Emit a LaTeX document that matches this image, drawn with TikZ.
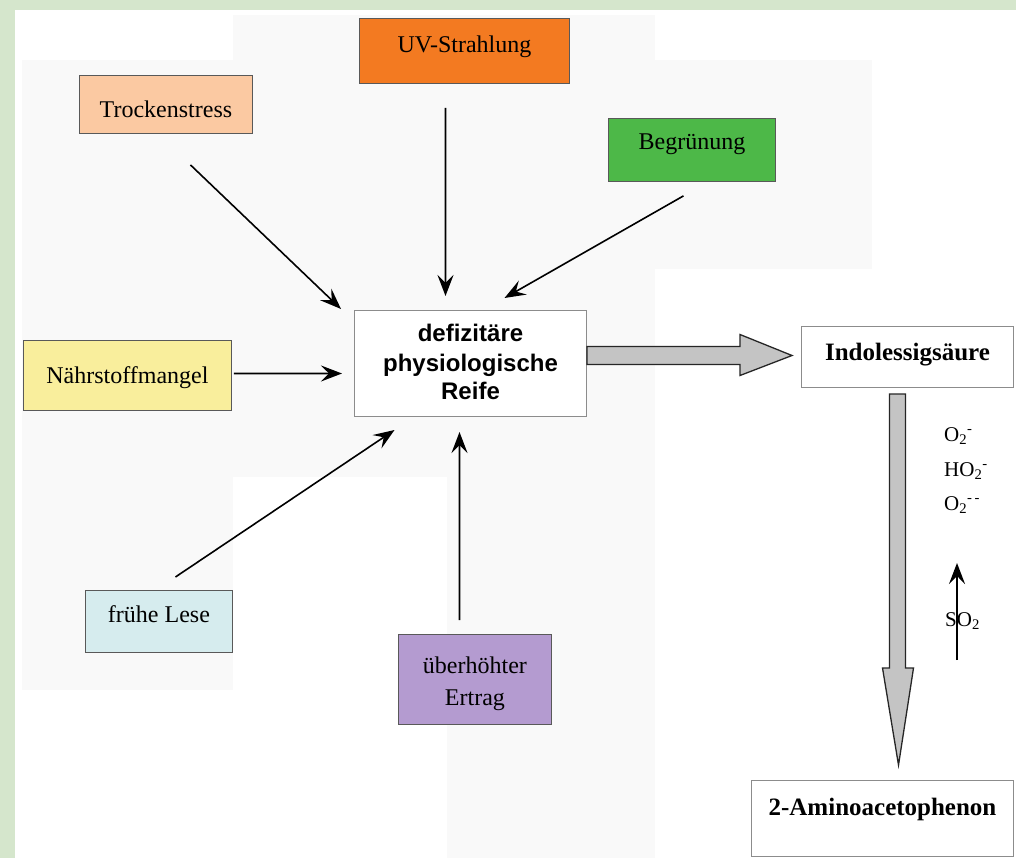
\documentclass[tikz,border=0pt]{standalone}
\usepackage{fontspec}
\setmainfont{Liberation Serif}
\setsansfont{Liberation Sans}
\usetikzlibrary{arrows.meta,calc}
\definecolor{framegreen}{HTML}{D5E6CC}
\definecolor{faint}{HTML}{F9F9F9}
\definecolor{uvc}{HTML}{F37A21}
\definecolor{troc}{HTML}{FBC9A2}
\definecolor{begc}{HTML}{4DB848}
\definecolor{naec}{HTML}{F9EE9C}
\definecolor{fruc}{HTML}{D6ECEE}
\definecolor{uebc}{HTML}{B49BD0}
\definecolor{blockc}{HTML}{C4C4C4}
\begin{document}
\begin{tikzpicture}[x=1pt,y=-1pt,
  box/.style={draw=black!65, line width=0.9pt, inner sep=0pt, anchor=north west},
  wbox/.style={draw=black!45, line width=1pt, inner sep=0pt, anchor=north west, fill=white},
  lbl/.style={font=\fontsize{24}{28}\selectfont, anchor=base, inner sep=0pt},
  blbl/.style={font=\fontsize{25}{29}\selectfont\bfseries, anchor=base, inner sep=0pt},
  slbl/.style={font=\fontsize{24}{28}\selectfont\sffamily\bfseries, anchor=base, inner sep=0pt},
  chem/.style={font=\fontsize{21}{25}\selectfont, anchor=base west, inner sep=0pt},
  tip/.style={-{Stealth[length=21pt,width=16pt,inset=8pt]}},
  arr/.style={line width=1.6pt, tip},
  block/.style={draw=black!85, line width=1.3pt, fill=blockc, line join=miter}
]
\useasboundingbox (0,0) rectangle (1016,858);
\fill[framegreen] (0,0) rectangle (1016,858);
\fill[white] (15,10) rectangle (1016,858);
% faint background areas
\fill[faint] (22,60) rectangle (233,690);
\fill[faint] (233,15) rectangle (655,477);
\fill[faint] (655,60) rectangle (872,269);
\fill[faint] (447,477) rectangle (655,858);

% boxes
\node[box, fill=uvc, minimum width=210pt, minimum height=65pt,
  label={[lbl, yshift=-35pt]north:UV-Strahlung}] (uv) at (359,18) {};
\node[box, fill=troc, minimum width=173pt, minimum height=58pt,
  label={[lbl, yshift=-43pt]north:Trockenstress}] (tro) at (79,75) {};
\node[box, fill=begc, minimum width=167pt, minimum height=63pt,
  label={[lbl, yshift=-32pt]north:Begrünung}] (beg) at (608,118) {};
\node[box, fill=naec, minimum width=208pt, minimum height=70pt,
  label={[lbl, yshift=-43pt]north:Nährstoffmangel}] (nae) at (23,340) {};
\node[wbox, minimum width=232pt, minimum height=106pt,
  label={[slbl, yshift=-31pt]north:defizitäre},
  label={[slbl, yshift=-61pt]north:physiologische},
  label={[slbl, yshift=-89pt]north:Reife}] (def) at (354,310) {};
\node[wbox, minimum width=212pt, minimum height=61pt,
  label={[blbl, yshift=-34pt]north:Indolessigsäure}] (ind) at (801,326) {};
\node[box, fill=fruc, minimum width=147pt, minimum height=62pt,
  label={[lbl, yshift=-32pt]north:frühe Lese}] (fru) at (85,590) {};
\node[box, fill=uebc, minimum width=153pt, minimum height=90pt,
  label={[lbl, yshift=-39pt]north:überhöhter},
  label={[lbl, yshift=-71pt]north:Ertrag}] (ueb) at (398,634) {};
\node[wbox, minimum width=262pt, minimum height=76pt,
  label={[blbl, yshift=-35pt]north:2-Aminoacetophenon}] (ami) at (751,780) {};

% thin arrows
\draw[arr] ($(tro.south)+(24.5,31)$) -- ($(def.north west)+(-13,-1)$);
\draw[arr] ($(uv.south)+(-19,24)$) -- ($(def.north)+(-25,-14)$);
\draw[arr] ($(beg.south)+(-8.5,14)$) -- ($(def.north)+(34,-12)$);
\draw[arr] ($(nae.east)+(2,-2)$) -- ($(def.west)+(-12,10)$);
\draw[arr] ($(fru.north)+(16.5,-13)$) -- ($(def.south)+(-76,13)$);
\draw[arr] ($(ueb.north)+(-15.5,-14)$) -- ($(def.south)+(-11,15)$);

% block arrow right
\draw[block] ($(def.east)+(0,-17)$) -- ($(ind.west)+(-61,-10.5)$) -- ($(ind.west)+(-61,-22.5)$)
  -- ($(ind.west)+(-9,-1.5)$) -- ($(ind.west)+(-61,18.5)$) -- ($(ind.west)+(-61,7.5)$)
  -- ($(def.east)+(0,1)$) -- cycle;
% block arrow down
\draw[block] ($(ind.south)+(-18,6)$) -- ($(ind.south)+(-2,6)$) -- ($(ami.north)+(23,-112)$)
  -- ($(ami.north)+(31,-112)$) -- ($(ami.north)+(16,-15)$) -- ($(ami.north)+(0,-112)$)
  -- ($(ami.north)+(7,-112)$) -- cycle;

% chemistry labels
\node[chem] (o1) at (944,441) {O\textsubscript{2}\textsuperscript{-}};
\node[chem] (o2) at (944,476) {HO\textsubscript{2}\textsuperscript{-}};
\node[chem] (o3) at (944,510) {O\textsubscript{2}\textsuperscript{-\,-}};
\node[chem] (so) at (945,626) {SO\textsubscript{2}};
\coordinate (sostart) at (957,660);
\draw[arr] (sostart) -- ($(sostart)+(0,-97)$);
\end{tikzpicture}
\end{document}
